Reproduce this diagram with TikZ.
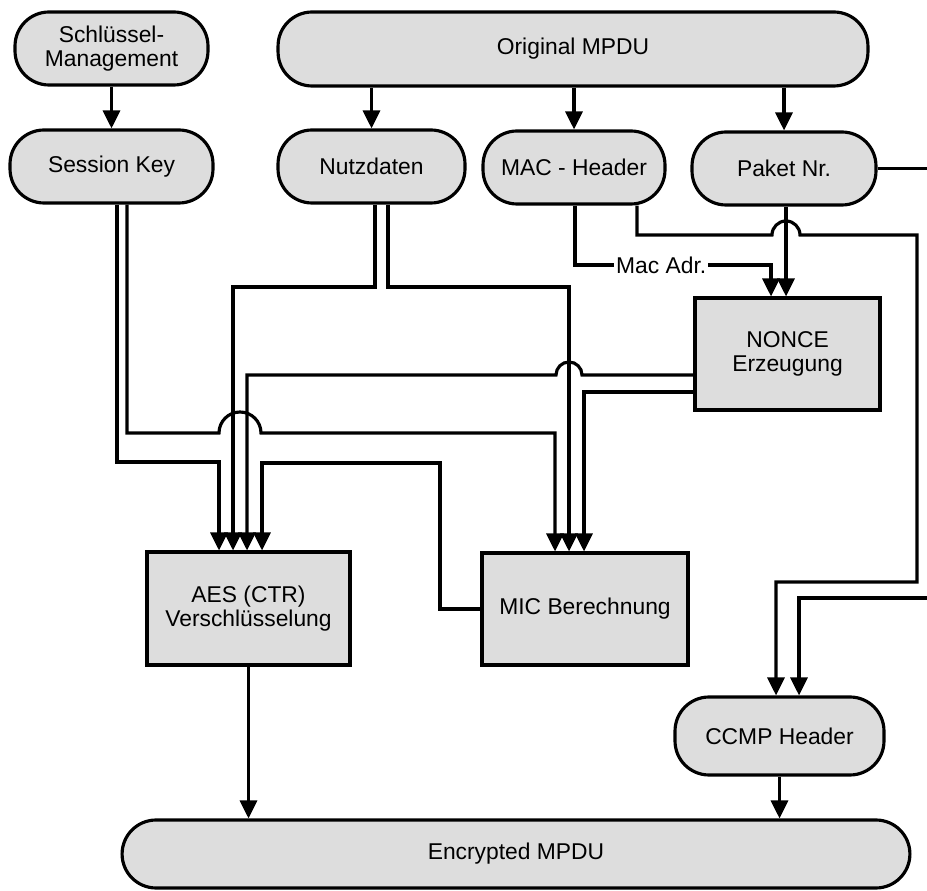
\documentclass[tikz,border=0pt]{standalone}
\usepackage{fontspec}
\setmainfont{Liberation Sans}
\usetikzlibrary{arrows.meta}

\begin{document}
\begin{tikzpicture}[
    x=0.02cm, y=-0.02cm,
    font=\fontsize{13}{14}\selectfont,
    line width=1.8pt,
    pill/.style={draw, fill=gray!27, rounded corners=0.68cm, minimum height=1.46cm, align=center, inner sep=2pt},
    block/.style={draw, fill=gray!27, align=center},
    arrow/.style={-{Triangle[length=0.36cm, width=0.34cm]}},
    tag/.style={fill=white, inner sep=1pt}
  ]
  \useasboundingbox (0,0) rectangle (927,891);
  \clip (0,0) rectangle (927,891);

  \node[pill, minimum width=3.86cm] (skm) at (111.5,48.5) {Schlüssel-\\Management};
  \node[pill, minimum width=11.8cm, minimum height=1.48cm] (omp) at (573,49) {Original MPDU};
  \node[pill, minimum width=4.06cm] (sk) at (111.5,166.5) {Session Key};
  \node[pill, minimum width=3.74cm] (nd) at (371.5,166.5) {Nutzdaten};
  \node[pill, minimum width=3.64cm] (mac) at (574,167.5) {MAC - Header};
  \node[pill, minimum width=3.68cm] (pkt) at (784,168.5) {Paket Nr.};
  \node[block, minimum width=3.7cm, minimum height=2.24cm] (nonce) at (787.5,354) {NONCE\\Erzeugung};
  \node[block, minimum width=4.06cm, minimum height=2.26cm] (aes) at (248.5,608.5) {AES (CTR)\\Verschlüsselung};
  \node[block, minimum width=4.12cm, minimum height=2.24cm] (mic) at (585,609) {MIC Berechnung};
  \node[pill, minimum width=4.18cm, minimum height=1.56cm] (ccmp) at (779.5,736) {CCMP Header};
  \node[pill, minimum width=15.76cm, minimum height=1.36cm] (enc) at (516,854) {Encrypted MPDU};

  \draw[arrow] (skm) -- (sk);
  \draw[arrow] (omp.south -| nd) -- (nd);
  \draw[arrow] (omp.south -| mac) -- (mac);
  \draw[arrow] (omp.south -| pkt) -- (pkt);

  \draw[arrow] (117,0 |- sk.south) |- (219,462) -- (219,0 |- aes.north);
  \draw[arrow] (127,0 |- sk.south) |- (219,433) arc[start angle=180, end angle=0, radius=0.42cm] -- (555,433) -- (555,0 |- mic.north);
  \draw[arrow] (375,0 |- nd.south) |- (233,287) -- (233,0 |- aes.north);
  \draw[arrow] (388,0 |- nd.south) |- (569,287) -- (569,0 |- mic.north);
  \draw[arrow] (nonce.west |- 0,375) -- (582,375) arc[start angle=0, end angle=180, radius=0.26cm] -- (247,375) -- (247,0 |- aes.north);
  \draw[arrow] (nonce.west |- 0,392) -| (584,0 |- mic.north);
  \draw[arrow] (mic.west) -| (440,463) -| (262,0 |- aes.north);

  \draw[arrow] (575,0 |- mac.south) |- node[tag, pos=0.72] {Mac Adr.} (771,265) -- (771,0 |- nonce.north);
  \draw[arrow] (786,0 |- pkt.south) -- (786,0 |- nonce.north);
  \draw[arrow] (637,0 |- mac.south) |- (772,235) arc[start angle=180, end angle=0, radius=0.28cm] -| (917,582) -| (776,0 |- ccmp.north);
  \draw[arrow] (pkt.east) -- (940,168.5) |- (799,598) -- (799,0 |- ccmp.north);

  \draw[arrow] (aes) -- (aes |- enc.north);
  \draw[arrow] (ccmp) -- (ccmp |- enc.north);
\end{tikzpicture}
\end{document}
